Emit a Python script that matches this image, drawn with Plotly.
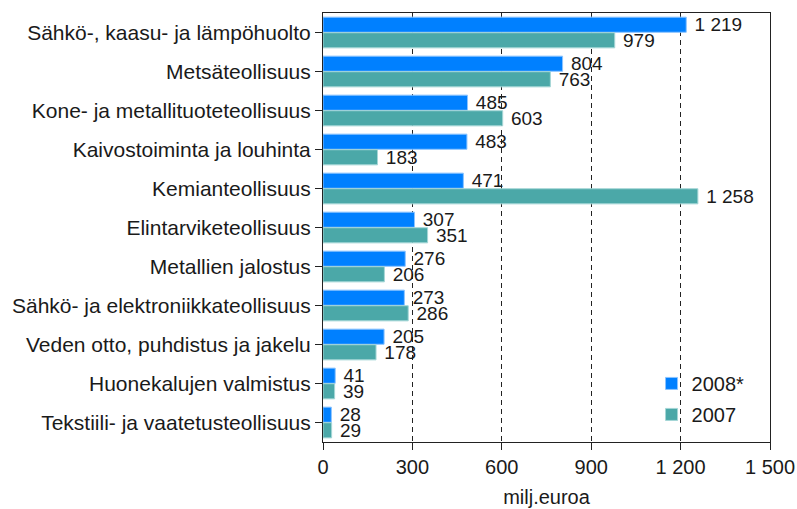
import plotly.graph_objects as go

categories = [
    "Sähkö-, kaasu- ja lämpöhuolto",
    "Metsäteollisuus",
    "Kone- ja metallituoteteollisuus",
    "Kaivostoiminta ja louhinta",
    "Kemianteollisuus",
    "Elintarviketeollisuus",
    "Metallien jalostus",
    "Sähkö- ja elektroniikkateollisuus",
    "Veden otto, puhdistus ja jakelu",
    "Huonekalujen valmistus",
    "Tekstiili- ja vaatetusteollisuus",
]
values_2008 = [1219, 804, 485, 483, 471, 307, 276, 273, 205, 41, 28]
values_2007 = [979, 763, 603, 183, 1258, 351, 206, 286, 178, 39, 29]
tick_vals = [0, 300, 600, 900, 1200, 1500]
tick_text = ["0", "300", "600", "900", "1 200", "1 500"]

FONT = "Liberation Sans, Arial, sans-serif"
TXT = "#1a1a1a"


def fmt(v):
    return " " + f"{v:,}".replace(",", " ")


fig = go.Figure()
fig.add_trace(go.Bar(
    y=categories, x=values_2008, orientation="h", name="2008*",
    legendgroup="a",
    marker=dict(color="#0080ff", line=dict(color="#8cc4ff", width=1)),
    text=[fmt(v) for v in values_2008], textposition="outside",
    constraintext="none", cliponaxis=False,
    textfont=dict(family=FONT, size=19, color=TXT),
))
fig.add_trace(go.Bar(
    y=categories, x=values_2007, orientation="h", name="2007",
    legendgroup="b",
    marker=dict(color="#4ba8a8", line=dict(color="#a5d6d6", width=1)),
    text=[fmt(v) for v in values_2007], textposition="outside",
    constraintext="none", cliponaxis=False,
    textfont=dict(family=FONT, size=19, color=TXT),
))

fig.update_layout(
    width=797, height=509,
    margin=dict(l=323, r=27, t=13, b=67),
    paper_bgcolor="white", plot_bgcolor="white",
    barmode="group", bargap=0.2, bargroupgap=0.03,
    font=dict(family=FONT, size=20, color=TXT),
    showlegend=True,
    legend=dict(x=0.735, y=0.182, xanchor="left", yanchor="top",
                bgcolor="rgba(0,0,0,0)", font=dict(family=FONT, size=20, color=TXT),
                traceorder="grouped", tracegroupgap=2, itemwidth=30),
)
fig.update_xaxes(
    range=[0, 1500], tickvals=tick_vals, ticktext=tick_text,
    showgrid=True, gridcolor="#222222", griddash="5px,4px", gridwidth=1,
    showline=True, linecolor="#222222", linewidth=1, mirror=True,
    ticks="outside", ticklen=7, tickcolor="#222222",
    tickfont=dict(family=FONT, size=20, color=TXT),
    zeroline=False, automargin=False,
    title=dict(text="milj.euroa", font=dict(family=FONT, size=20, color=TXT), standoff=12),
)
fig.update_yaxes(
    autorange="reversed", automargin=False,
    showline=True, linecolor="#222222", linewidth=1, mirror=True,
    ticks="outside", ticklen=7, tickcolor="#222222",
    tickfont=dict(family=FONT, size=21, color=TXT),
    showgrid=False,
)

fig.write_html(
    "out.html",
    config={"displayModeBar": False},
    post_script="document.body.style.margin='0';document.body.style.overflow='hidden';",
)
